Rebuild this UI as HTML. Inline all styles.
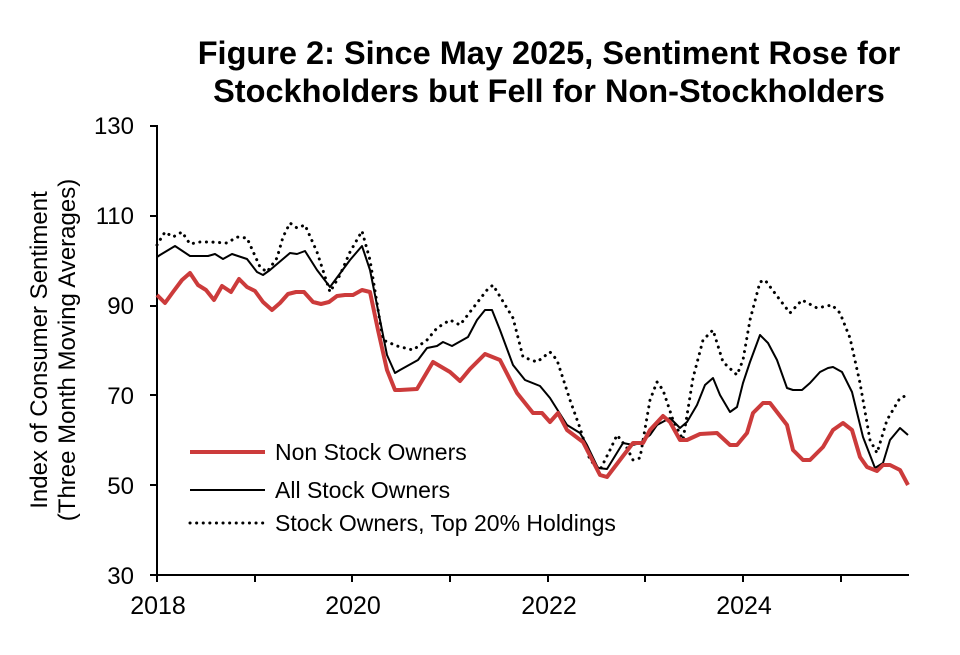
<!DOCTYPE html>
<html><head><meta charset="utf-8"><style>
html,body{margin:0;padding:0;background:#fff;}
svg{display:block;font-family:"Liberation Sans",Arial,sans-serif;}
</style></head><body>
<svg width="960" height="655" viewBox="0 0 960 655" xmlns="http://www.w3.org/2000/svg">
<text x="549" y="64" font-size="32.5" font-weight="bold" text-anchor="middle">Figure 2: Since May 2025, Sentiment Rose for</text>
<text x="549" y="102" font-size="32.5" font-weight="bold" text-anchor="middle">Stockholders but Fell for Non-Stockholders</text>
<g font-size="24" text-anchor="end">
<text x="134" y="134">130</text><text x="134" y="224">110</text><text x="134" y="314">90</text>
<text x="134" y="404">70</text><text x="134" y="494">50</text><text x="134" y="584">30</text>
</g>
<g font-size="25" text-anchor="middle">
<text x="158" y="614">2018</text><text x="353" y="614">2020</text><text x="549" y="614">2022</text><text x="744" y="614">2024</text>
</g>
<text transform="translate(47,350) rotate(-90)" font-size="24" text-anchor="middle">Index of Consumer Sentiment</text>
<text transform="translate(75,350) rotate(-90)" font-size="24" text-anchor="middle">(Three Month Moving Averages)</text>
<g stroke="#000" stroke-width="2" fill="none">
<line x1="157" y1="125" x2="157" y2="582"/>
<line x1="150" y1="575" x2="909" y2="575"/>
<line x1="150" y1="126" x2="157" y2="126"/><line x1="150" y1="216" x2="157" y2="216"/>
<line x1="150" y1="306" x2="157" y2="306"/><line x1="150" y1="395" x2="157" y2="395"/>
<line x1="150" y1="485" x2="157" y2="485"/>
<line x1="255" y1="575" x2="255" y2="582"/><line x1="352" y1="575" x2="352" y2="582"/>
<line x1="450" y1="575" x2="450" y2="582"/><line x1="548" y1="575" x2="548" y2="582"/>
<line x1="645" y1="575" x2="645" y2="582"/><line x1="743" y1="575" x2="743" y2="582"/>
<line x1="841" y1="575" x2="841" y2="582"/>
</g>
<polyline fill="none" stroke="#000" stroke-width="3" stroke-dasharray="0.1 6.5" stroke-linecap="round" stroke-linejoin="round" points="157,245 160,240 165,232 173,237 182,232 190,244 200,242 210,242 227,243 237,237 247,238 260,267 267,272 277,258 283,237 290,223 297,228 305,225 317,252 330,292 340,275 350,252 362,231 370,260 383,340 397,346 413,350 427,340 437,328 450,320 460,325 470,312 487,290 493,285 513,318 523,357 537,362 550,352 557,360 570,400 580,428 590,460 600,470 610,450 617,435 627,448 633,460 640,458 650,400 657,382 663,390 673,420 683,440 693,378 703,340 713,330 723,362 737,375 743,360 750,320 760,282 765,280 780,300 790,313 802,300 817,308 832,305 840,313 850,338 860,383 870,440 877,453 887,420 900,398 908,395"/>
<polyline fill="none" stroke="#000" stroke-width="2" stroke-linejoin="round" points="157,257 160,255 175,246 190,256 208,256 215,254 223,259 232,254 247,259 257,272 263,275 270,270 290,253 297,254 305,251 317,270 330,287 350,260 362,246 370,270 387,355 395,373 400,370 418,360 427,348 437,346 443,342 452,346 468,337 477,320 485,310 492,310 500,330 513,365 525,380 540,386 550,398 567,425 580,433 587,445 598,468 607,469 623,443 633,445 640,443 650,435 657,425 670,418 680,428 687,422 697,405 705,385 713,378 720,395 730,412 737,407 743,383 750,362 760,335 768,343 777,360 787,388 793,390 802,390 810,383 820,372 828,368 833,367 842,372 852,392 863,437 875,468 883,463 890,440 900,428 908,435"/>
<polyline fill="none" stroke="#cc3b3b" stroke-width="4" stroke-linejoin="round" points="157,295 165,303 173,292 182,280 190,273 198,285 206,290 214,300 222,286 231,292 239,279 247,287 255,291 263,302 272,310 280,303 288,294 296,292 304,292 313,302 321,304 329,302 337,296 345,295 353,295 362,290 370,292 378,330 387,370 395,390 400,390 417,389 433,362 450,372 460,381 470,369 485,354 500,360 517,393 533,413 542,413 550,422 558,413 567,430 583,442 600,475 607,477 623,456 633,443 643,443 650,430 663,416 670,422 680,440 687,440 700,434 717,433 730,445 737,445 747,433 753,413 763,403 770,403 787,425 793,450 803,460 810,460 823,447 833,430 843,423 852,430 860,457 867,467 877,471 883,465 890,465 900,470 908,485"/>
<line x1="190" y1="452" x2="265" y2="452" stroke="#cc3b3b" stroke-width="4"/>
<line x1="190" y1="490" x2="265" y2="490" stroke="#000" stroke-width="2"/>
<line x1="190" y1="523" x2="265" y2="523" stroke="#000" stroke-width="3" stroke-dasharray="0.1 6.5" stroke-linecap="round"/>
<g font-size="23">
<text x="275" y="460">Non Stock Owners</text>
<text x="275" y="498">All Stock Owners</text>
<text x="275" y="531">Stock Owners, Top 20% Holdings</text>
</g>
</svg>
</body></html>
